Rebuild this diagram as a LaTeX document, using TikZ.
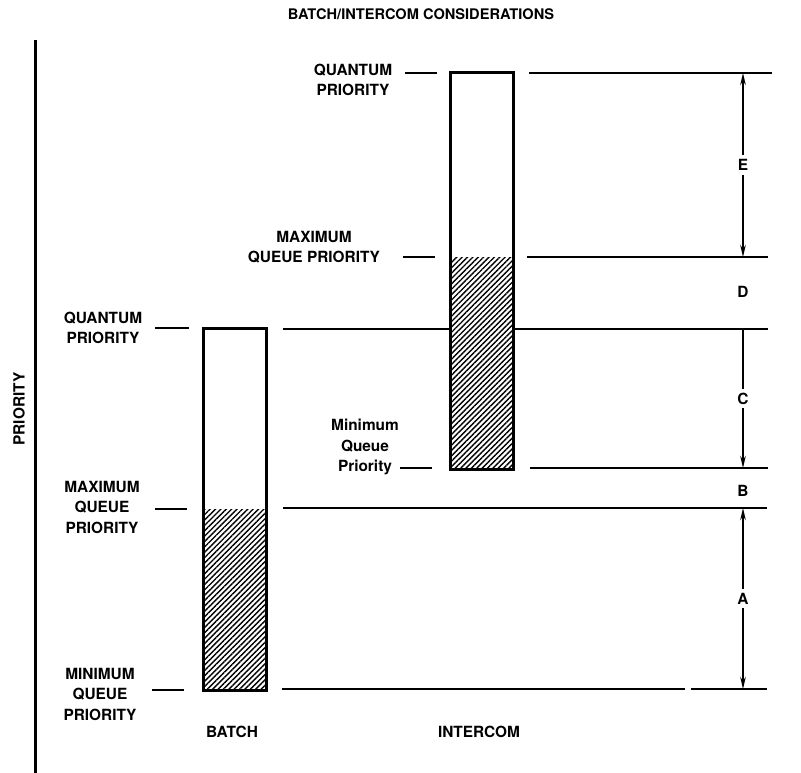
\documentclass[tikz,border=0pt]{standalone}
\usepackage{fontspec}
\setmainfont{TeX Gyre Heros}
\usetikzlibrary{arrows.meta,patterns.meta}

\tikzset{
  lbl/.style={font=\bfseries\fontsize{15.4}{20.5}\selectfont, align=center, inner sep=0pt},
  levelline/.style={line width=2pt},
  bar/.style={draw, line width=3pt},
  hatch/.style={pattern={Lines[angle=45,distance=3.8pt,line width=1.4pt]}},
  dimline/.style={line width=1.8pt, >={Stealth[length=12pt,width=5.5pt]}},
  dimlbl/.style={font=\bfseries\fontsize{15.4}{18}\selectfont, fill=white, inner sep=4pt},
}

\begin{document}
\begin{tikzpicture}[x=1pt,y=-1pt]
  \useasboundingbox (0,0) rectangle (801,773);

  % title and priority axis
  \node[lbl, font=\bfseries\fontsize{14.6}{18}\selectfont] (title) at (421,14) {BATCH/INTERCOM CONSIDERATIONS};
  \coordinate (axtop) at (35,40);
  \coordinate (axbot) at (35,773);
  \draw[line width=3pt] (axtop) -- (axbot);
  \node[lbl, rotate=90] (prio) at (19,409) {PRIORITY};

  % labels on the left of the batch bar
  \node[lbl] (bq) at (103,328) {QUANTUM\\PRIORITY};
  \node[lbl] (bmax) at (102,507) {MAXIMUM\\QUEUE\\PRIORITY};
  \node[lbl] (bmin) at (100,694) {MINIMUM\\QUEUE\\PRIORITY};
  \node[lbl] (batch) at (232,732) {BATCH};

  % labels on the left of the intercom bar
  \node[lbl] (iq) at (353,80) {QUANTUM\\PRIORITY};
  \node[lbl] (imax) at (314,247) {MAXIMUM\\QUEUE PRIORITY};
  \node[lbl] (imin) at (365,447) {Minimum\\Queue\\Priority};
  \node[lbl] (intercom) at (479,732) {INTERCOM};

  % short ticks next to the labels
  \draw[levelline] (155,328) -- (189,328);
  \draw[levelline] (155,509) -- (187,509);
  \draw[levelline] (152,690) -- (184,690);
  \draw[levelline] (405,73) -- (437,73);
  \draw[levelline] (403,257) -- (435,257);
  \draw[levelline] (400,468) -- (432,468);

  % level lines to the right
  \coordinate (e1) at (743,73);
  \coordinate (e2) at (743,257);
  \coordinate (c1) at (743,329);
  \coordinate (c2) at (743,468);
  \coordinate (a1) at (743,508);
  \coordinate (a2) at (743,689);
  \draw[levelline] (529,73) -- (772,73);
  \draw[levelline] (527,257) -- (768,257);
  \draw[levelline] (283,329) -- (768,329);
  \draw[levelline] (530,468) -- (768,468);
  \draw[levelline] (283,508) -- (767,508);
  \draw[levelline] (282,689) -- (685,689);
  \draw[levelline] (691,689) -- (767,689);

  % the two bars (drawn over the level lines)
  \fill[white] (203,328) rectangle (266,690);
  \fill[hatch] (203,509) rectangle (266,690);
  \draw[bar] (203,328) rectangle (266,690);
  \fill[white] (450,73) rectangle (513,469);
  \fill[hatch] (450,257) rectangle (513,469);
  \draw[bar] (450,73) rectangle (513,469);

  % ranges A to E
  \draw[dimline, <->] (e1) -- node[dimlbl] (lE) {E} (e2);
  \node[dimlbl, fill=none] (lD) at (743,292) {D};
  \draw[dimline, ->] (c1) -- node[dimlbl] (lC) {C} (c2);
  \node[dimlbl, fill=none] (lB) at (743,491) {B};
  \draw[dimline, <->] (a1) -- node[dimlbl] (lA) {A} (a2);
\end{tikzpicture}
\end{document}
